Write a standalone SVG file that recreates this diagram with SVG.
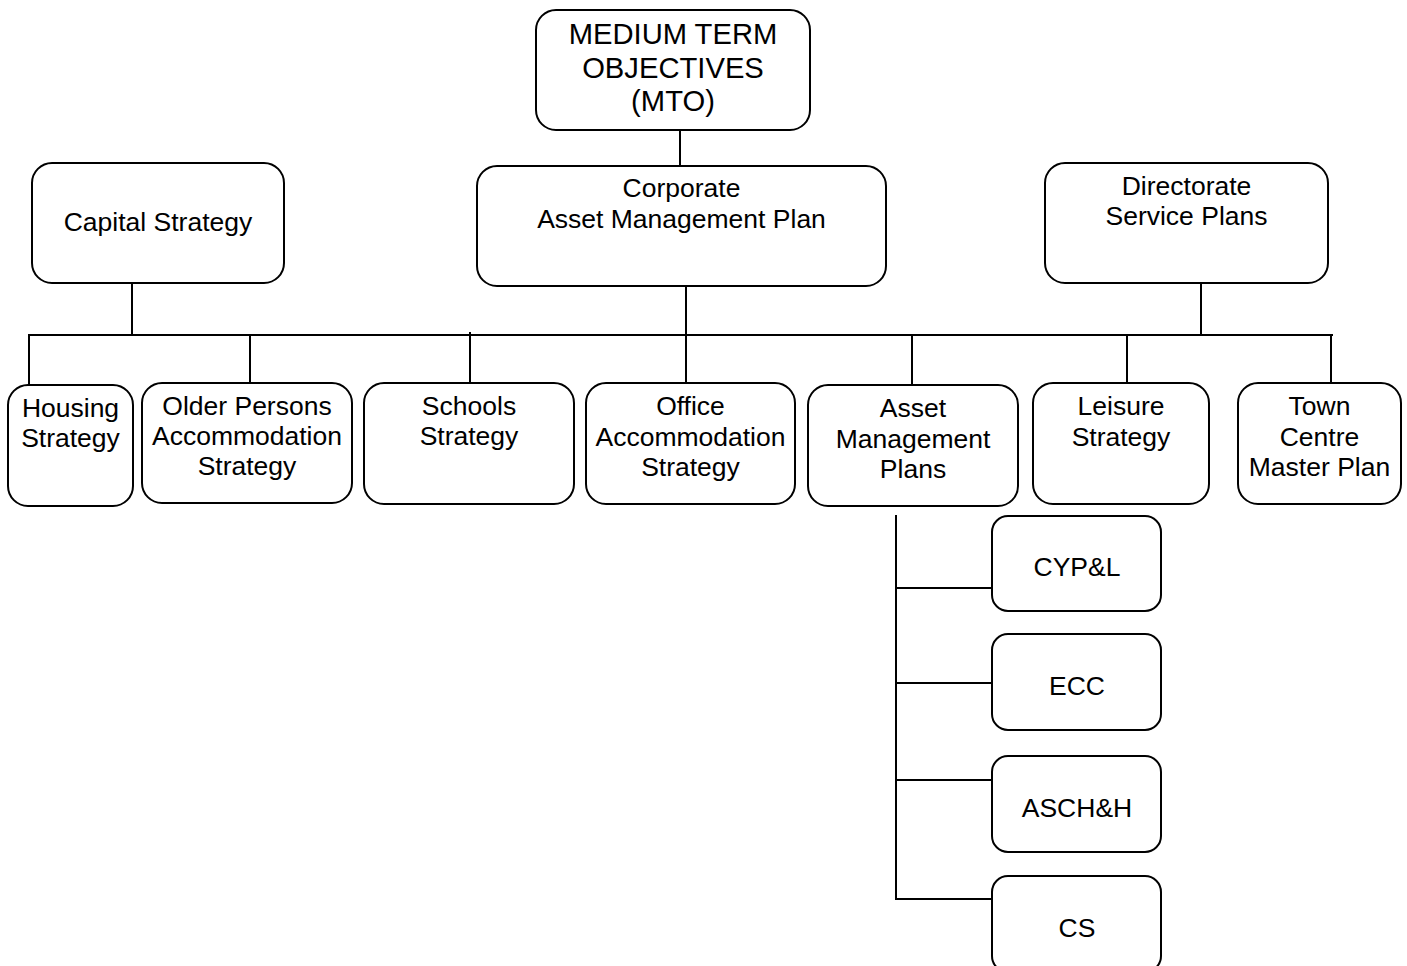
<svg xmlns="http://www.w3.org/2000/svg" width="1407" height="966" viewBox="0 0 1407 966">
<style>
.box{fill:#fff;stroke:#000;stroke-width:2}
.t{font-family:"Liberation Sans",Arial,sans-serif;font-size:26.5px;fill:#000;text-anchor:middle}
.big{font-size:29.2px}
.c{stroke:#000;stroke-width:2;fill:none}
</style>
<rect width="1407" height="966" fill="#fff"/>
<g id="connectors">
<line class="c" x1="680" y1="130" x2="680" y2="166"/>
<line class="c" x1="132" y1="283" x2="132" y2="335"/>
<line class="c" x1="686" y1="286" x2="686" y2="383"/>
<line class="c" x1="1201" y1="283" x2="1201" y2="335"/>
<line class="c" x1="28" y1="335" x2="1333" y2="335"/>
<line class="c" x1="29" y1="334" x2="29" y2="385"/>
<line class="c" x1="250" y1="335" x2="250" y2="383"/>
<line class="c" x1="470" y1="332" x2="470" y2="383"/>
<line class="c" x1="912" y1="335" x2="912" y2="385"/>
<line class="c" x1="1127" y1="335" x2="1127" y2="383"/>
<line class="c" x1="1331" y1="334" x2="1331" y2="383"/>
<polyline class="c" points="896,515 896,899 992,899"/>
<line class="c" x1="896" y1="588" x2="992" y2="588"/>
<line class="c" x1="896" y1="683" x2="992" y2="683"/>
<line class="c" x1="896" y1="780" x2="992" y2="780"/>
</g>
<g id="mto"><rect class="box" x="536" y="10" width="274" height="120" rx="20"/>
<text class="t big" x="673" y="44">MEDIUM TERM</text><text class="t big" x="673" y="78">OBJECTIVES</text><text class="t big" x="673" y="111">(MTO)</text></g>
<g id="capital"><rect class="box" x="32" y="163" width="252" height="120" rx="20"/>
<text class="t" x="158" y="231">Capital Strategy</text></g>
<g id="camp"><rect class="box" x="477" y="166" width="409" height="120" rx="20"/>
<text class="t" x="681.5" y="197">Corporate</text><text class="t" x="681.5" y="228">Asset Management Plan</text></g>
<g id="dsp"><rect class="box" x="1045" y="163" width="283" height="120" rx="20"/>
<text class="t" x="1186.5" y="195">Directorate</text><text class="t" x="1186.5" y="225">Service Plans</text></g>
<g id="housing"><rect class="box" x="8" y="385" width="125" height="121" rx="20"/>
<text class="t" x="70.5" y="417">Housing</text><text class="t" x="70.5" y="447">Strategy</text></g>
<g id="older"><rect class="box" x="142" y="383" width="210" height="120" rx="20"/>
<text class="t" x="247" y="415">Older Persons</text><text class="t" x="247" y="445">Accommodation</text><text class="t" x="247" y="475">Strategy</text></g>
<g id="schools"><rect class="box" x="364" y="383" width="210" height="121" rx="20"/>
<text class="t" x="469" y="415">Schools</text><text class="t" x="469" y="445">Strategy</text></g>
<g id="office"><rect class="box" x="586" y="383" width="209" height="121" rx="20"/>
<text class="t" x="690.5" y="415">Office</text><text class="t" x="690.5" y="446">Accommodation</text><text class="t" x="690.5" y="476">Strategy</text></g>
<g id="amp"><rect class="box" x="808" y="385" width="210" height="121" rx="20"/>
<text class="t" x="913" y="417">Asset</text><text class="t" x="913" y="448">Management</text><text class="t" x="913" y="478">Plans</text></g>
<g id="leisure"><rect class="box" x="1033" y="383" width="176" height="121" rx="20"/>
<text class="t" x="1121" y="415">Leisure</text><text class="t" x="1121" y="446">Strategy</text></g>
<g id="town"><rect class="box" x="1238" y="383" width="163" height="121" rx="20"/>
<text class="t" x="1319.5" y="415">Town</text><text class="t" x="1319.5" y="446">Centre</text><text class="t" x="1319.5" y="476">Master Plan</text></g>
<g id="cypl"><rect class="box" x="992" y="516" width="169" height="95" rx="16"/>
<text class="t" x="1077" y="576">CYP&amp;L</text></g>
<g id="ecc"><rect class="box" x="992" y="634" width="169" height="96" rx="16"/>
<text class="t" x="1077" y="695">ECC</text></g>
<g id="asch"><rect class="box" x="992" y="756" width="169" height="96" rx="16"/>
<text class="t" x="1077" y="817">ASCH&amp;H</text></g>
<g id="cs"><rect class="box" x="992" y="876" width="169" height="96" rx="16"/>
<text class="t" x="1077" y="937">CS</text></g>
</svg>
